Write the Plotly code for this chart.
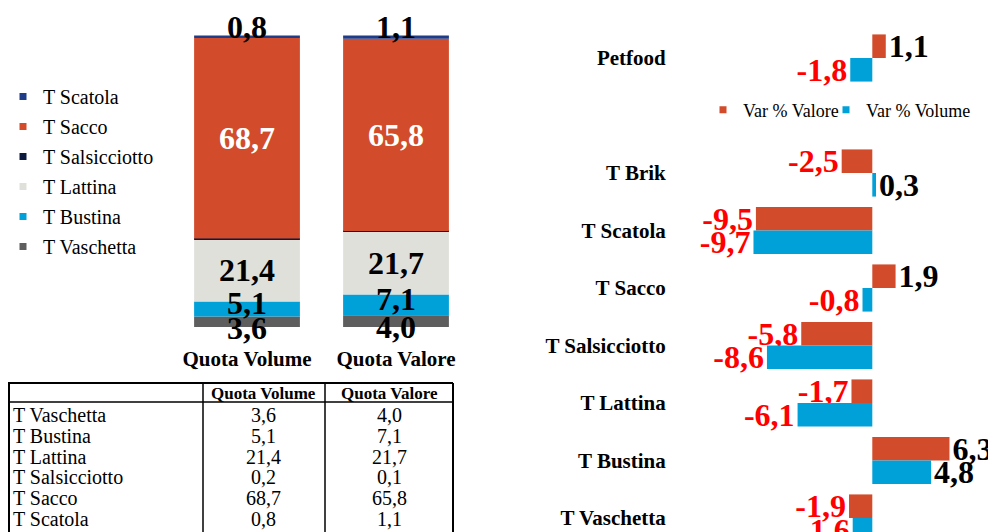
import plotly.graph_objects as go

W, H = 996, 532
OFF = 8  # page body margin: figure is drawn 8px right/down of window origin
FONT = "Liberation Serif"

# ---------------- data ----------------
share_cats = ["Quota Volume", "Quota Valore"]
segments = ["T Vaschetta", "T Bustina", "T Lattina", "T Salsicciotto", "T Sacco", "T Scatola"]
quota_volume = [3.6, 5.1, 21.4, 0.2, 68.7, 0.8]
quota_valore = [4.0, 7.1, 21.7, 0.1, 65.8, 1.1]

var_cats = ["Petfood", "T Brik", "T Scatola", "T Sacco", "T Salsicciotto",
            "T Lattina", "T Bustina", "T Vaschetta"]
var_valore = [1.1, -2.5, -9.5, 1.9, -5.8, -1.7, 6.3, -1.9]
var_volume = [-1.8, 0.3, -9.7, -0.8, -8.6, -6.1, 4.8, -1.6]

# ---------------- styles ----------------
seg_colors = {
    "T Vaschetta": "#5E5E5E",
    "T Bustina": "#00A0D8",
    "T Lattina": "#E0E0DB",
    "T Salsicciotto": "#0B1A3E",
    "T Sacco": "#D24B2B",
    "T Scatola": "#1F3C88",
}
ORANGE = "#D24B2B"
BLUE = "#00A0D8"


def px(x):
    return (x - OFF) / W


def py(y):
    return 1 - (y - OFF) / H


def fmt(v):
    return f"{v:.1f}".replace(".", ",")


fig = go.Figure()

# ---------------- left stacked bars ----------------
cum_vol, cum_val = [], []
s1 = s2 = 0.0
for a, b in zip(quota_volume, quota_valore):
    cum_vol.append(s1)
    cum_val.append(s2)
    s1 += a
    s2 += b

for i, seg in enumerate(segments):
    fig.add_trace(go.Bar(
        x=share_cats, y=[quota_volume[i], quota_valore[i]],
        base=[cum_vol[i], cum_val[i]],
        width=0.71, marker=dict(color=seg_colors[seg], line=dict(width=0)),
        name=seg, showlegend=False, xaxis="x", yaxis="y", hoverinfo="skip",
    ))

label_shift = {"T Vaschetta": -6, "T Bustina": 6, "T Lattina": 0, "T Sacco": 0, "T Scatola": 9}
annotations = []
for i, seg in enumerate(segments):
    if seg not in label_shift:
        continue
    for cat, vals, cums in ((share_cats[0], quota_volume, cum_vol), (share_cats[1], quota_valore, cum_val)):
        yv = cums[i] + vals[i] if seg == "T Scatola" else cums[i] + vals[i] / 2
        annotations.append(dict(
            x=cat, y=yv, xref="x", yref="y", text=fmt(vals[i]), showarrow=False,
            yshift=label_shift[seg], yanchor="middle",
            font=dict(family=FONT, size=32, color="white" if seg == "T Sacco" else "black",
                      weight="bold"),
        ))

# legend entries (top to bottom order as in reference)
for seg in reversed(segments):
    fig.add_trace(go.Scatter(
        x=[None], y=[None], mode="markers", name=seg, legend="legend", legendgroup=seg,
        marker=dict(symbol="square", size=7, color=seg_colors[seg]),
        xaxis="x", yaxis="y", hoverinfo="skip",
    ))

# ---------------- right grouped horizontal bars ----------------
def txtcolors(vals):
    return ["black" if v >= 0 else "#FF0000" for v in vals]

fig.add_trace(go.Bar(
    y=var_cats, x=var_valore, orientation="h", name="Var % Valore",
    offset=-0.41, width=0.41, marker=dict(color=ORANGE, line=dict(width=0)),
    text=[fmt(v) for v in var_valore], textposition="outside", constraintext="none",
    cliponaxis=False, textfont=dict(family=FONT, size=32, color=txtcolors(var_valore), weight="bold"),
    xaxis="x2", yaxis="y2", showlegend=False, hoverinfo="skip",
))
fig.add_trace(go.Bar(
    y=var_cats, x=var_volume, orientation="h", name="Var % Volume",
    offset=0, width=0.41, marker=dict(color=BLUE, line=dict(width=0)),
    text=[fmt(v) for v in var_volume], textposition="outside", constraintext="none",
    cliponaxis=False, textfont=dict(family=FONT, size=32, color=txtcolors(var_volume), weight="bold"),
    xaxis="x2", yaxis="y2", showlegend=False, hoverinfo="skip",
))
for nm, col, lg in (("Var % Valore", ORANGE, "legend2"), ("Var % Volume", BLUE, "legend3")):
    fig.add_trace(go.Scatter(
        x=[None], y=[None], mode="markers", name=nm, legend=lg,
        marker=dict(symbol="square", size=7, color=col),
        xaxis="x2", yaxis="y2", hoverinfo="skip",
    ))

cat_order = [var_cats[0], " "] + var_cats[1:]

# ---------------- table (bottom left) ----------------
shapes = []
tl, tr, tt = 8, 453, 383
col_x = [8, 203, 325, 453]
head_bottom = 402
row_h = 20.8
shapes.append(dict(type="line", xref="paper", yref="paper", x0=px(tl), x1=px(tr), y0=py(tt), y1=py(tt),
                   line=dict(color="black", width=2)))
shapes.append(dict(type="line", xref="paper", yref="paper", x0=px(tl), x1=px(tr), y0=py(head_bottom),
                   y1=py(head_bottom), line=dict(color="black", width=1.5)))
for cx in col_x:
    shapes.append(dict(type="line", xref="paper", yref="paper", x0=px(cx + (1 if cx == tl else 0)),
                       x1=px(cx + (1 if cx == tl else 0)), y0=py(tt), y1=py(545),
                       line=dict(color="black", width=2 if cx in (tl, tr) else 1.5)))

header = ["", share_cats[0], share_cats[1]]
for j in (1, 2):
    annotations.append(dict(
        x=px((col_x[j] + col_x[j + 1]) / 2), y=py((tt + head_bottom) / 2 + 1), xref="paper", yref="paper",
        text=header[j], showarrow=False, xanchor="center", yanchor="middle",
        font=dict(family=FONT, size=17, color="black", weight="bold"),
    ))
for i, seg in enumerate(segments):
    yc = head_bottom + 13 + i * row_h
    annotations.append(dict(x=px(tl + 3), y=py(yc), xref="paper", yref="paper", text=seg, showarrow=False,
                            xanchor="left", yanchor="middle", font=dict(family=FONT, size=20, color="black")))
    annotations.append(dict(x=px((col_x[1] + col_x[2]) / 2), y=py(yc), xref="paper", yref="paper",
                            text=fmt(quota_volume[i]), showarrow=False, xanchor="center", yanchor="middle",
                            font=dict(family=FONT, size=20, color="black")))
    annotations.append(dict(x=px((col_x[2] + col_x[3]) / 2), y=py(yc), xref="paper", yref="paper",
                            text=fmt(quota_valore[i]), showarrow=False, xanchor="center", yanchor="middle",
                            font=dict(family=FONT, size=20, color="black")))

# ---------------- layout ----------------
zero_px, unit_px = 872.3, 12.25
x2_left, x2_right = 682.0, 996.0
x2_range = [-(zero_px - x2_left) / unit_px, (x2_right - zero_px) / unit_px]
slot_pitch, slot0 = 57.5, 58.0
top_px, bot_px = OFF, 532
y2_range = [(bot_px - slot0) / slot_pitch, (top_px - slot0) / slot_pitch]

small_legend = dict(yanchor="middle", orientation="h", font=dict(family=FONT, size=18),
                    itemsizing="trace", bgcolor="rgba(0,0,0,0)")

fig.update_layout(
    width=W, height=H, margin=dict(l=0, r=0, t=0, b=0, autoexpand=False),
    paper_bgcolor="white", plot_bgcolor="white", barmode="overlay",
    font=dict(family=FONT, color="black"),
    xaxis=dict(domain=[px(172.5), px(470.5)], type="category", range=[-0.5, 1.5],
               showgrid=False, zeroline=False, showline=False, ticks="outside", ticklen=13,
               tickcolor="rgba(0,0,0,0)", tickfont=dict(family=FONT, size=21, weight="bold")),
    yaxis=dict(domain=[py(327), py(35)], range=[0, 100], visible=False),
    xaxis2=dict(domain=[px(x2_left), px(x2_right)], range=x2_range, anchor="y2", visible=False),
    yaxis2=dict(domain=[py(bot_px), 1], range=y2_range, anchor="x2", type="category",
                categoryorder="array", categoryarray=cat_order, showgrid=False, zeroline=False,
                showline=False, ticks="outside", ticklen=11, tickcolor="rgba(0,0,0,0)",
                tickfont=dict(family=FONT, size=21, weight="bold")),
    legend=dict(x=px(3), y=py(77), xanchor="left", yanchor="top", orientation="v",
                font=dict(family=FONT, size=20), itemsizing="trace", bgcolor="rgba(0,0,0,0)",
                tracegroupgap=1),
    legend2=dict(x=px(703), y=py(110), xanchor="left", **small_legend),
    legend3=dict(x=px(826), y=py(110), xanchor="left", **small_legend),
    annotations=annotations, shapes=shapes,
)

fig.write_html("out.html")
